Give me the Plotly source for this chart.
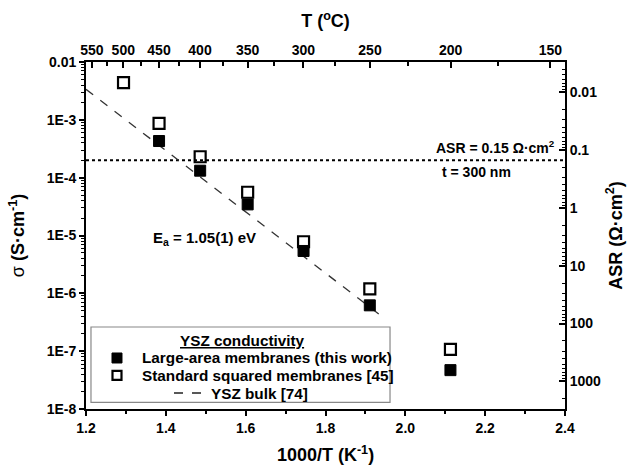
import numpy as np
import plotly.graph_objects as go

# ---- data ----
inv_T_this = [1.383, 1.486, 1.605, 1.745, 1.911, 2.113]
sigma_this = [4.3e-4, 1.32e-4, 3.45e-5, 5.4e-6, 6.2e-7, 4.7e-8]

inv_T_std = [1.294, 1.383, 1.486, 1.605, 1.745, 1.911, 2.113]
sigma_std = [4.4e-3, 8.7e-4, 2.3e-4, 5.6e-5, 7.8e-6, 1.19e-6, 1.07e-7]

inv_T_bulk = [1.2, 1.937]
sigma_bulk = [3.37e-3, 4.2e-7]

asr_x = [1.2, 2.4]
asr_sigma = [2.0e-4, 2.0e-4]

x_ticks = [1.2, 1.4, 1.6, 1.8, 2.0, 2.2, 2.4]
x_minor = [1.3, 1.5, 1.7, 1.9, 2.1, 2.3]
y_ticks = [1e-8, 1e-7, 1e-6, 1e-5, 1e-4, 1e-3, 1e-2]
y_ticktext = ["1E-8", "1E-7", "1E-6", "1E-5", "1E-4", "1E-3", "0.01"]
T_major = [550, 500, 450, 400, 350, 300, 250, 200, 150]
T_minor = [525, 475, 425, 375, 325, 275, 225, 175]
asr_ticks = [0.01, 0.1, 1, 10, 100, 1000]
asr_ticktext = ["0.01", "0.1", "1", "10", "100", "1000"]
thickness_cm = 3e-5  # t = 300 nm

legend_title = "YSZ conductivity"
legend_names = ["Large-area membranes (this work)", "Standard squared membranes [45]", "YSZ bulk [74]"]

FONT = "Liberation Sans, Arial, sans-serif"

fig = go.Figure()

fig.add_trace(go.Scatter(
    x=asr_x, y=asr_sigma, mode="lines",
    line=dict(color="black", width=2.2, dash="dot"),
    showlegend=False, hoverinfo="skip"))

fig.add_trace(go.Scatter(
    x=inv_T_bulk, y=sigma_bulk, mode="lines",
    line=dict(color="#333", width=1.3, dash="dash"),
    name=legend_names[2], showlegend=False))

fig.add_trace(go.Scatter(
    x=inv_T_this, y=sigma_this, mode="markers",
    marker=dict(symbol="square", size=11, color="black", line=dict(color="black", width=1)),
    name=legend_names[0], showlegend=False))

fig.add_trace(go.Scatter(
    x=inv_T_std, y=sigma_std, mode="markers",
    marker=dict(symbol="square-open", size=11, color="black", line=dict(color="black", width=2.2)),
    name=legend_names[1], showlegend=False))

# anchor traces for secondary axes (empty)
fig.add_trace(go.Scatter(x=[], y=[], xaxis="x2", yaxis="y", showlegend=False))
fig.add_trace(go.Scatter(x=[], y=[], xaxis="x", yaxis="y2", showlegend=False))

T_major_pos = [1000.0 / (t + 273.15) for t in T_major]
T_minor_pos = [1000.0 / (t + 273.15) for t in T_minor]

y_minor = [m * d for d in [1e-8, 1e-7, 1e-6, 1e-5, 1e-4, 1e-3] for m in range(2, 10)]
asr_minor = [m * d for d in [1e-3, 1e-2, 1e-1, 1, 10, 100, 1000] for m in range(2, 10)]

ax_font = dict(family=FONT, size=14, color="black")
title_font = dict(family=FONT, size=18, color="black")

fig.update_layout(
    width=630, height=475,
    margin=dict(l=86, r=65, t=62, b=66, autoexpand=False),
    paper_bgcolor="white", plot_bgcolor="white",
    font=dict(family=FONT, color="black"),
    showlegend=False,
    xaxis=dict(
        range=[1.2, 2.4], tickmode="array", tickvals=x_ticks,
        ticktext=["<b>%.1f</b>" % v for v in x_ticks],
        ticks="outside", ticklen=5, tickwidth=1.5, tickcolor="black",
        minor=dict(tickmode="array", tickvals=x_minor, ticks="outside", ticklen=3, tickwidth=1.5, tickcolor="black"),
        showline=True, linecolor="black", linewidth=1.8, showgrid=False, zeroline=False,
        tickfont=ax_font, automargin=False,
        title=dict(text="<b>1000/T (K<sup>-1</sup>)</b>", font=title_font, standoff=14),
    ),
    xaxis2=dict(
        overlaying="x", side="top", anchor="y", range=[1.2, 2.4],
        tickmode="array", tickvals=T_major_pos,
        ticktext=["<b>%d</b>" % t for t in T_major],
        ticks="inside", ticklen=6, tickwidth=1.5, tickcolor="black",
        minor=dict(tickmode="array", tickvals=T_minor_pos, ticks="inside", ticklen=4, tickwidth=1.5, tickcolor="black"),
        showline=True, linecolor="black", linewidth=1.8, showgrid=False, zeroline=False,
        tickfont=ax_font, automargin=False,
        title=dict(text="<b>T (<sup>o</sup>C)</b>", font=title_font, standoff=9),
    ),
    yaxis=dict(
        type="log", range=[-8, -2], tickmode="array", tickvals=y_ticks,
        ticktext=["<b>%s</b>" % s for s in y_ticktext],
        ticks="outside", ticklen=5, tickwidth=1.5, tickcolor="black",
        minor=dict(tickmode="array", tickvals=y_minor, ticks="outside", ticklen=3, tickwidth=1, tickcolor="black"),
        showline=True, linecolor="black", linewidth=1.8, showgrid=False, zeroline=False,
        tickfont=ax_font, automargin=False,
        title=dict(text="σ <b>(S·cm<sup>-1</sup>)</b>", font=title_font, standoff=17),
    ),
    yaxis2=dict(
        overlaying="y", side="right", anchor="x", type="log",
        range=[np.log10(thickness_cm / 1e-8), np.log10(thickness_cm / 1e-2)],
        tickmode="array", tickvals=asr_ticks,
        ticktext=["<b>%s</b>" % s for s in asr_ticktext],
        ticks="inside", ticklen=6, tickwidth=1.5, tickcolor="black",
        minor=dict(tickmode="array", tickvals=asr_minor, ticks="inside", ticklen=3, tickwidth=1, tickcolor="black"),
        showline=True, linecolor="black", linewidth=1.8, showgrid=False, zeroline=False,
        tickfont=ax_font, automargin=False,
        title=dict(text="<b>ASR (Ω·cm<sup>2</sup>)</b>", font=title_font, standoff=9),
    ),
)

# ---- text annotations ----
fig.add_annotation(x=0.983, xref="paper", y=np.log10(asr_sigma[0]), yref="y", yshift=13,
                   text="<b>ASR = 0.15 Ω·cm<sup>2</sup></b>", showarrow=False, xanchor="right",
                   font=dict(family=FONT, size=14, color="black"))
fig.add_annotation(x=0.816, xref="paper", y=np.log10(asr_sigma[0]), yref="y", yshift=-12,
                   text="<b>t = 300 nm</b>", showarrow=False, xanchor="center",
                   font=dict(family=FONT, size=14, color="black"))
fig.add_annotation(x=1.497, xref="x", y=np.log10(9e-6), yref="y",
                   text="<b>E<sub>a</sub> = 1.05(1) eV</b>", showarrow=False, xanchor="center",
                   font=dict(family=FONT, size=15, color="black"))

# ---- legend box (drawn in paper coordinates) ----
lg_font = dict(family=FONT, size=15.3, color="black")
fig.add_shape(type="rect", xref="paper", yref="paper", x0=0.0104, x1=0.6347, y0=0.019, y1=0.2363,
              line=dict(color="#888", width=1.2), fillcolor="white", layer="above")
fig.add_annotation(xref="paper", yref="paper", x=0.3257, y=0.197, showarrow=False,
                   text="<b><u>%s</u></b>" % legend_title, font=lg_font, xanchor="center", yanchor="middle")
rows_y = [0.1470, 0.0970, 0.0460]
key_x = 0.0647
fig.add_shape(type="rect", xref="paper", yref="paper", xsizemode="pixel", ysizemode="pixel",
              xanchor=key_x, yanchor=rows_y[0], x0=-5, x1=5, y0=-5, y1=5,
              fillcolor="black", line=dict(color="black", width=1), layer="above")
fig.add_shape(type="rect", xref="paper", yref="paper", xsizemode="pixel", ysizemode="pixel",
              xanchor=key_x, yanchor=rows_y[1], x0=-4.5, x1=4.5, y0=-4.5, y1=4.5,
              fillcolor="white", line=dict(color="black", width=2.2), layer="above")
fig.add_shape(type="line", xref="paper", yref="paper", x0=(174 - 86) / 479, x1=(202 - 86) / 479,
              y0=rows_y[2], y1=rows_y[2], line=dict(color="#222", width=1.5, dash="dash"), layer="above")
fig.add_annotation(xref="paper", yref="paper", x=(140 - 86) / 479, y=rows_y[0], showarrow=False,
                   text="<b>%s</b>" % legend_names[0], font=lg_font, xanchor="left", yanchor="middle")
fig.add_annotation(xref="paper", yref="paper", x=(140 - 86) / 479, y=rows_y[1], showarrow=False,
                   text="<b>%s</b>" % legend_names[1], font=lg_font, xanchor="left", yanchor="middle")
fig.add_annotation(xref="paper", yref="paper", x=(209 - 86) / 479, y=rows_y[2], showarrow=False,
                   text="<b>%s</b>" % legend_names[2], font=lg_font, xanchor="left", yanchor="middle")

fig.write_html("out.html")
